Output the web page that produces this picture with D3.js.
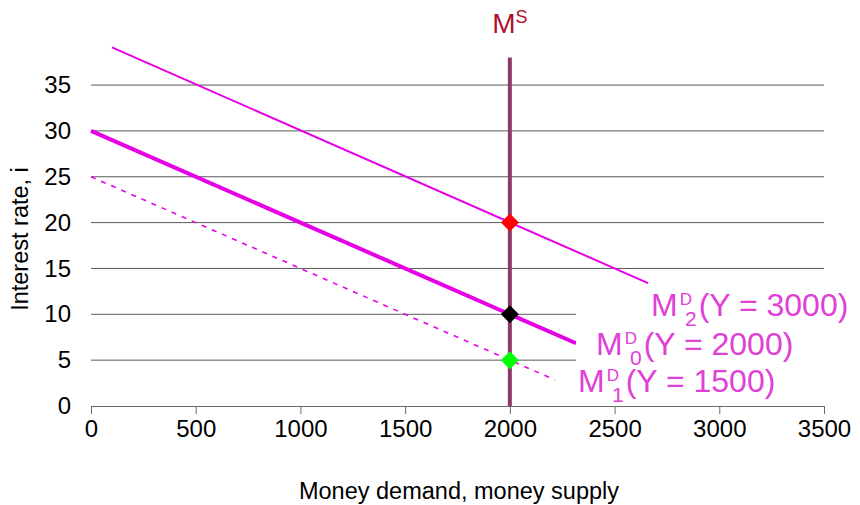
<!DOCTYPE html>
<html>
<head>
<meta charset="utf-8">
<script src="https://cdn.jsdelivr.net/npm/d3@7"></script>
<style>
  html, body { margin: 0; padding: 0; background: #fff; }
  svg { display: block; font-family: Arial, "Liberation Sans", sans-serif; }
</style>
</head>
<body>
<svg id="chart" width="860" height="505"></svg>
<script>
// Money demand curves: income Y shifts the demand schedule
const md2Y = [100, 2660];          // M^D_2, Y = 3000
const md2I = [39.1, 13.4];
const md0Y = [0, 2316];            // M^D_0, Y = 2000
const md0I = [30, 6.84];
const md1Y = [0, 2215];            // M^D_1, Y = 1500 (dashed)
const md1I = [25, 2.85];

// Vertical money supply
const msY = [2000, 2000];
const msI = [0, 38];

// Equilibrium points
const eqY = [2000, 2000, 2000];
const eqI = [20, 10, 5];
const eqColors = ["#ff0000", "#000000", "#00ff00"];

const xTicks = [0, 500, 1000, 1500, 2000, 2500, 3000, 3500];
const yTicks = [0, 5, 10, 15, 20, 25, 30, 35];

const svg = d3.select("#chart");
const x = d3.scaleLinear().domain([0, 3500]).range([91, 824]);
const y = d3.scaleLinear().domain([0, 40]).range([406, 39.2]);

// Horizontal gridlines
svg.append("g").selectAll("line")
  .data(yTicks.filter(d => d > 0))
  .join("line")
  .attr("x1", x(0)).attr("x2", x(3500))
  .attr("y1", d => y(d)).attr("y2", d => y(d))
  .attr("stroke", "#5a5a5a").attr("stroke-width", 1);

// X axis
const xAxis = svg.append("g")
  .attr("transform", `translate(0,${y(0)})`)
  .call(d3.axisBottom(x).tickValues(xTicks).tickFormat(d3.format("d"))
    .tickSize(8).tickPadding(6).tickSizeOuter(0));
xAxis.select(".domain").attr("stroke", "#6a6a6a");
xAxis.selectAll(".tick line").attr("stroke", "#6a6a6a");
xAxis.selectAll("text").attr("font-size", 24).attr("fill", "#000")
  .attr("font-family", "Arial, 'Liberation Sans', sans-serif");

// Y axis labels (no axis line)
const yAxis = svg.append("g")
  .attr("transform", `translate(${x(0)},0)`)
  .call(d3.axisLeft(y).tickValues(yTicks).tickSize(0).tickPadding(20));
yAxis.select(".domain").remove();
yAxis.selectAll("text").attr("font-size", 24).attr("fill", "#000")
  .attr("font-family", "Arial, 'Liberation Sans', sans-serif");

// Axis titles
svg.append("text")
  .attr("x", 459).attr("y", 499)
  .attr("text-anchor", "middle")
  .attr("font-size", 23.5)
  .text("Money demand, money supply");
svg.append("text")
  .attr("transform", `translate(28,239) rotate(-90)`)
  .attr("text-anchor", "middle")
  .attr("font-size", 23.5)
  .text("Interest rate, i");

const line = d3.line().x(d => x(d[0])).y(d => y(d[1]));
const pts = (a, b) => a.map((v, i) => [v, b[i]]);

svg.append("path").datum(pts(md2Y, md2I)).attr("d", line)
  .attr("fill", "none").attr("stroke", "#e600e6").attr("stroke-width", 2);
svg.append("path").datum(pts(md0Y, md0I)).attr("d", line)
  .attr("fill", "none").attr("stroke", "#e600e6").attr("stroke-width", 4);
svg.append("path").datum(pts(md1Y, md1I)).attr("d", line)
  .attr("fill", "none").attr("stroke", "#e600e6").attr("stroke-width", 1.6)
  .attr("stroke-dasharray", "5,6");

// White panel behind the lower demand labels
svg.append("rect")
  .attr("x", x(md0Y[1])).attr("y", y(10.3))
  .attr("width", 860 - x(md0Y[1])).attr("height", y(4.7) - y(10.3))
  .attr("fill", "#fff");

// Money supply line
svg.append("path").datum(pts(msY, msI)).attr("d", line)
  .attr("fill", "none").attr("stroke", "#8e3a68").attr("stroke-width", 4);

// Equilibrium diamonds
const diamond = "M0,-9L9,0L0,9L-9,0Z";
svg.append("g").selectAll("path")
  .data(eqY.map((v, i) => ({ v, r: eqI[i], c: eqColors[i] })))
  .join("path")
  .attr("d", diamond)
  .attr("transform", d => `translate(${x(d.v)},${y(d.r)})`)
  .attr("fill", d => d.c);

// M^S label
const ms = svg.append("text")
  .attr("x", x(2000)).attr("y", 33)
  .attr("text-anchor", "middle")
  .attr("fill", "#b0102a");
ms.append("tspan").attr("font-size", 28).text("M");
ms.append("tspan").attr("font-size", 18).attr("dy", -10).text("S");

// Demand curve labels
function mdLabel(lx, ly, sub, income) {
  const t = svg.append("text").attr("x", lx).attr("y", ly)
    .attr("fill", "#e040d6").attr("font-size", 32);
  t.append("tspan").text("M");
  t.append("tspan").attr("font-size", 17).attr("dy", -11).attr("dx", 2).text("D");
  t.append("tspan").attr("font-size", 21).attr("dy", 21).attr("dx", -7).text(sub);
  t.append("tspan").attr("dy", -10).attr("dx", 2).text(`(Y = ${income})`);
}
mdLabel(651, 315.5, "2", 3000);
mdLabel(596, 354.5, "0", 2000);
mdLabel(578, 392, "1", 1500);
</script>
</body>
</html>
